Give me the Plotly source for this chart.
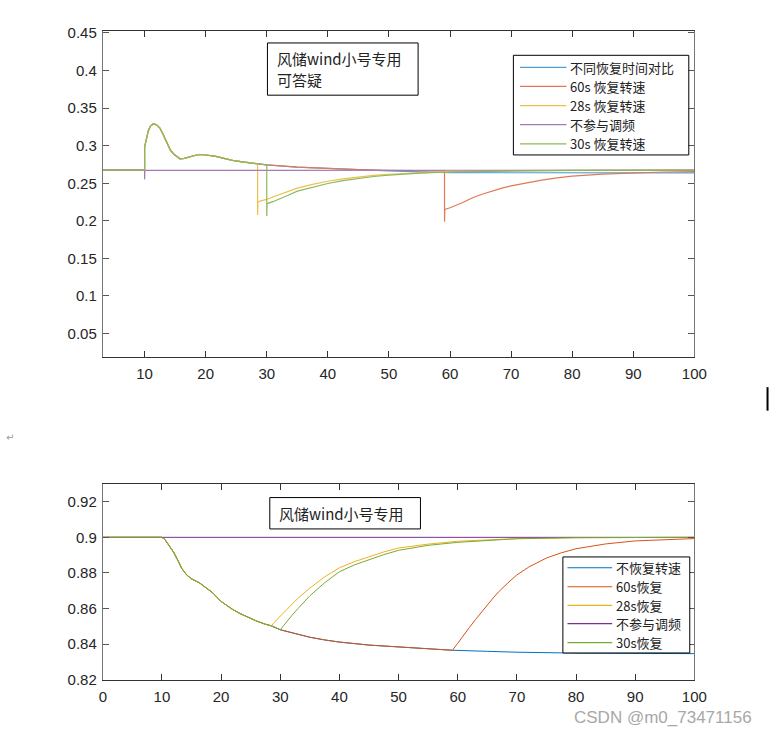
import plotly.graph_objects as go

W, H = 782, 742

# ---------------- names / colours ----------------
top_names = ["不同恢复时间对比", "60s 恢复转速", "28s 恢复转速", "不参与调频", "30s 恢复转速"]
bot_names = ["不恢复转速", "60s恢复", "28s恢复", "不参与调频", "30s恢复"]
top_colors = ["#4f9fd8", "#df7a55", "#eebf4a", "#a47ab4", "#8cb95a"]
bot_colors = ["#0072BD", "#D95319", "#EDB120", "#7E2F8E", "#77AC30"]

# ---------------- data: top subplot ----------------
top_common_t = [3.16, 10.0, 10.0, 10.3, 10.6, 11.0, 11.4, 11.9, 12.5, 13.0, 13.7, 14.2, 14.75,
                15.3, 15.8, 16.5, 17.5, 18.5, 19.3, 20.3, 21.5, 23.0, 24.4, 26.0, 27.5, 28.5, 30.0]
top_common_v = [0.2674, 0.2674, 0.298, 0.311, 0.3196, 0.3265, 0.329, 0.328, 0.3235, 0.3155, 0.302, 0.2945, 0.289,
                0.2850, 0.2826, 0.2832, 0.2857, 0.2876, 0.2883, 0.2878, 0.2862, 0.2832, 0.2804, 0.2785, 0.2770, 0.2761, 0.2744]

top_blue_t = [35, 40, 45, 50, 55, 60, 70, 80, 90, 100]
top_blue_v = [0.2715, 0.2696, 0.2681, 0.2666, 0.2652, 0.2643, 0.2640, 0.2638, 0.2638, 0.2638]

top_red_t = [35, 40, 45, 50, 55, 59.1, 59.1, 59.15, 60, 61, 62, 63, 64, 65.5, 67, 68.5, 70, 72.5, 75,
             77.5, 80, 85, 90, 95, 100]
top_red_v = [0.2715, 0.2696, 0.2682, 0.2672, 0.2667, 0.2665, 0.1988, 0.2152, 0.2175, 0.2205, 0.2240, 0.2280,
             0.2318, 0.2360, 0.2400, 0.2435, 0.2465, 0.2508, 0.2543, 0.2572, 0.2596, 0.2622, 0.2640, 0.2650, 0.2656]

top_yel_t = [28.5, 28.5, 28.55, 29, 30, 31, 32, 33.5, 35, 37.5, 40, 42.5, 45, 47.5, 50, 55, 60, 70, 80, 100]
top_yel_v = [0.2761, 0.2079, 0.2250, 0.2265, 0.2285, 0.2318, 0.2348, 0.2390, 0.2435, 0.2485, 0.2527, 0.2558,
             0.2585, 0.2605, 0.2620, 0.2642, 0.2655, 0.2668, 0.2673, 0.2675]

top_grn_t = [30, 30, 30.05, 31, 32, 33.5, 35, 37.5, 40, 42.5, 45, 47.5, 50, 55, 60, 70, 80, 100]
top_grn_v = [0.2744, 0.2066, 0.2230, 0.2255, 0.2285, 0.2340, 0.2395, 0.2450, 0.2497, 0.2535, 0.2565, 0.2590,
             0.2608, 0.2635, 0.2650, 0.2665, 0.2672, 0.2675]

top_pur_t = [3.16, 10.0, 10.0, 10.05, 20, 40, 60, 80, 100]
top_pur_v = [0.2674, 0.2674, 0.2552, 0.2672, 0.2672, 0.2672, 0.2673, 0.2674, 0.2674]

# ---------------- data: bottom subplot ----------------
bot_common_t = [0, 10.0, 10.5, 11.0, 11.96, 12.7, 13.34, 14.17, 15.0, 16.4, 17.5, 18.6, 19.96, 21.0,
                21.9, 23.2, 24.6, 26.0, 27.4, 28.5, 30.0]
bot_common_v = [0.9, 0.9, 0.8988, 0.8965, 0.8917, 0.8870, 0.8826, 0.8789, 0.8767, 0.8743, 0.8715, 0.8688,
                0.8641, 0.8615, 0.8596, 0.8572, 0.8550, 0.8530, 0.8513, 0.8503, 0.8481]

bot_blue_t = [32.5, 35, 37.5, 40, 45, 50, 55, 59.1, 65, 70, 80, 90, 100]
bot_blue_v = [0.8458, 0.8439, 0.8424, 0.8412, 0.8395, 0.8384, 0.8374, 0.8366, 0.8360, 0.8355, 0.8350, 0.8348, 0.8347]

bot_red_t = [32.5, 35, 37.5, 40, 45, 50, 55, 59.1, 60, 61, 62, 63, 64, 65, 66, 67, 68, 69, 70, 72, 75,
             77.5, 80, 85, 90, 95, 100]
bot_red_v = [0.8458, 0.8439, 0.8424, 0.8412, 0.8395, 0.8384, 0.8374, 0.8366, 0.8405, 0.8452, 0.8495, 0.8538,
             0.8580, 0.8623, 0.8660, 0.8697, 0.8730, 0.8760, 0.8789, 0.8833, 0.8884, 0.8913, 0.8936, 0.8963,
             0.8980, 0.8988, 0.8993]

bot_yel_t = [29, 30, 31, 32, 33, 34, 35, 37.5, 40, 42.5, 45, 47.5, 50, 55, 60, 65, 70, 80, 100]
bot_yel_v = [0.8523, 0.8559, 0.8593, 0.8625, 0.8658, 0.8688, 0.8715, 0.8778, 0.8829, 0.8863, 0.8890, 0.8918,
             0.8940, 0.8962, 0.8978, 0.8987, 0.8993, 0.8998, 0.9]

bot_grn_t = [31, 32, 33, 34, 35, 37.5, 40, 42.5, 45, 47.5, 50, 55, 60, 65, 70, 80, 100]
bot_grn_v = [0.8525, 0.8563, 0.8600, 0.8637, 0.8672, 0.8745, 0.8807, 0.8845, 0.8875, 0.8903, 0.8927, 0.8955,
             0.8972, 0.8984, 0.8992, 0.8998, 0.9]

bot_pur_t = [0, 100]
bot_pur_v = [0.9, 0.9]

# tick labels
top_xticks = [10, 20, 30, 40, 50, 60, 70, 80, 90, 100]
top_yticks = [0.05, 0.1, 0.15, 0.2, 0.25, 0.3, 0.35, 0.4, 0.45]
top_yticktext = ["0.05", "0.1", "0.15", "0.2", "0.25", "0.3", "0.35", "0.4", "0.45"]
bot_xticks = [0, 10, 20, 30, 40, 50, 60, 70, 80, 90, 100]
bot_yticks = [0.82, 0.84, 0.86, 0.88, 0.9, 0.92]
bot_yticktext = ["0.82", "0.84", "0.86", "0.88", "0.9", "0.92"]


def cut(t, v, upto):
    return [a for a in t if a <= upto], [b for a, b in zip(t, v) if a <= upto]


fig = go.Figure()

c30t, c30v = cut(top_common_t, top_common_v, 30)
c285t, c285v = cut(top_common_t, top_common_v, 28.5)
top_series = [
    (c30t + top_blue_t, c30v + top_blue_v),
    (c30t + top_red_t, c30v + top_red_v),
    (c285t + top_yel_t[1:], c285v + top_yel_v[1:]),
    (top_pur_t, top_pur_v),
    (c30t + top_grn_t[1:], c30v + top_grn_v[1:]),
]
for (t, v), c in zip(top_series, top_colors):
    fig.add_trace(go.Scatter(x=t, y=v, mode="lines", line=dict(color=c, width=1.2),
                             xaxis="x", yaxis="y", showlegend=False))

b30t, b30v = cut(bot_common_t, bot_common_v, 30)
b285t, b285v = cut(bot_common_t, bot_common_v, 28.5)
bot_series = [
    (b30t + bot_blue_t, b30v + bot_blue_v),
    (b30t + bot_red_t, b30v + bot_red_v),
    (b285t + bot_yel_t, b285v + bot_yel_v),
    (bot_pur_t, bot_pur_v),
    (b30t + bot_grn_t, b30v + bot_grn_v),
]
for (t, v), c in zip(bot_series, bot_colors):
    fig.add_trace(go.Scatter(x=t, y=v, mode="lines", line=dict(color=c, width=1.0),
                             xaxis="x2", yaxis="y2", showlegend=False))


def px(x):
    return x / W


def py(y):
    return 1 - y / H


tickfont = dict(family="Liberation Sans, Arial", size=15, color="#262626")
common_x = dict(showline=True, linecolor="#333333", linewidth=1, mirror="ticks", ticks="inside",
                ticklen=6, tickcolor="#333333", showgrid=False, zeroline=False, tickfont=tickfont,
                ticklabelstandoff=3)
common_y = dict(showline=True, linecolor="#777777", linewidth=1, mirror="ticks", ticks="inside",
                ticklen=6, tickcolor="#555555", showgrid=False, zeroline=False, tickfont=tickfont,
                ticklabelstandoff=2)

xd = [px(101), px(705.7)]
fig.update_layout(
    width=W, height=H, margin=dict(l=0, r=0, t=0, b=0),
    paper_bgcolor="white", plot_bgcolor="white", showlegend=False,
    xaxis=dict(domain=xd, anchor="y", range=[3.16, 100], tickvals=top_xticks, **common_x),
    yaxis=dict(domain=[py(357.3), py(25)], anchor="x", range=[0.0187, 0.452],
               tickvals=top_yticks, ticktext=top_yticktext, **common_y),
    xaxis2=dict(domain=xd, anchor="y2", range=[0, 100], tickvals=bot_xticks, **common_x),
    yaxis2=dict(domain=[py(686.7), py(487.3)], anchor="x2", range=[0.82, 0.9297],
                tickvals=bot_yticks, ticktext=bot_yticktext, **common_y),
)

shapes = []
annos = []
cjk = "Noto Sans CJK SC"

# text boxes
shapes.append(dict(type="rect", xref="paper", yref="paper", x0=px(269.3), x1=px(423.3),
                   y0=py(90), y1=py(36.7), line=dict(color="black", width=1), fillcolor="white", layer="above"))
annos.append(dict(text="风储wind小号专用", x=px(277), y=py(52.3), xref="paper", yref="paper",
                  xanchor="left", yanchor="middle", showarrow=False, font=dict(family=cjk, size=15, color="#222")))
annos.append(dict(text="可答疑", x=px(277), y=py(74), xref="paper", yref="paper",
                  xanchor="left", yanchor="middle", showarrow=False, font=dict(family=cjk, size=15, color="#222")))
shapes.append(dict(type="rect", xref="paper", yref="paper", x0=px(271.7), x1=px(425.7),
                   y0=py(532.7), y1=py(500.7), line=dict(color="black", width=1), fillcolor="white", layer="above"))
annos.append(dict(text="风储wind小号专用", x=px(279), y=py(516.7), xref="paper", yref="paper",
                  xanchor="left", yanchor="middle", showarrow=False, font=dict(family=cjk, size=15, color="#222")))


def legend(box, rows, lx0, lx1, tx, names, cols):
    x0, x1, y0, y1 = box
    shapes.append(dict(type="rect", xref="paper", yref="paper", x0=px(x0), x1=px(x1),
                       y0=py(y1), y1=py(y0), line=dict(color="black", width=1), fillcolor="white",
                       layer="above"))
    for ry, name, c in zip(rows, names, cols):
        shapes.append(dict(type="line", xref="paper", yref="paper", x0=px(lx0), x1=px(lx1),
                           y0=py(ry), y1=py(ry), line=dict(color=c, width=1.2), layer="above"))
        annos.append(dict(text=name, x=px(tx), y=py(ry), xref="paper", yref="paper",
                          xanchor="left", yanchor="middle", showarrow=False,
                          font=dict(family=cjk, size=13, color="#222")))


legend((520.7, 700, 49.3, 151), [61.7, 81, 100.7, 120, 139.7], 527.5, 575, 577, top_names, top_colors)
legend((571.3, 701, 561.3, 659.3), [572.3, 591.7, 610.7, 629.3, 648.7], 576, 621.7, 624, bot_names, bot_colors)

# page artefacts
annos.append(dict(text="↵", x=px(0), y=py(439), xref="paper", yref="paper", xanchor="left",
                  yanchor="middle", showarrow=False, font=dict(family="DejaVu Sans", size=10, color="#999")))
shapes.append(dict(type="line", xref="paper", yref="paper", x0=px(780.5), x1=px(780.5),
                   y0=py(412), y1=py(388), line=dict(color="black", width=2)))
annos.append(dict(text="CSDN @m0_73471156", x=px(767), y=py(725), xref="paper", yref="paper",
                  xanchor="right", yanchor="middle", showarrow=False,
                  font=dict(family="Liberation Sans, Arial", size=17, color="#a8a8a8")))

fig.update_layout(shapes=shapes, annotations=annos)
fig.write_html("out.html")
